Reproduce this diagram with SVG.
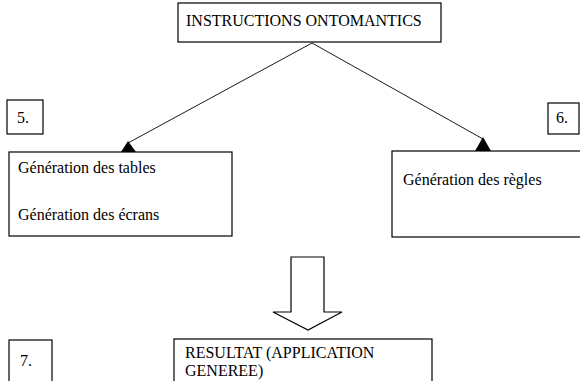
<svg xmlns="http://www.w3.org/2000/svg" width="580" height="381" viewBox="0 0 580 381">
<style>
.box{fill:#fff;stroke:#000;stroke-width:1.2}
.t{font-family:"Liberation Serif","Times New Roman",serif;font-size:16px;fill:#000}
.ln{stroke:#000;stroke-width:0.9;fill:none}
.head{fill:#000;stroke:none}
</style>
<rect width="580" height="381" fill="#fff"/>
<g id="connectors">
<line class="ln" x1="312" y1="43" x2="128" y2="143"/>
<polygon class="head" points="128,141 121,152 136,152"/>
<line class="ln" x1="312" y1="43" x2="483" y2="139"/>
<polygon class="head" points="483,137 475,151 491,151"/>
<polygon class="box" points="291,257 324,257 324,312 342,312 308,330 273,312 291,312"/>
</g>
<g id="instructions">
<rect class="box" x="178" y="3" width="263" height="39"/>
<text class="t" x="186" y="26">INSTRUCTIONS ONTOMANTICS</text>
</g>
<g id="label5">
<rect class="box" x="7" y="100" width="36" height="34"/>
<text class="t" x="17" y="123">5.</text>
</g>
<g id="tables">
<rect class="box" x="9" y="152" width="223" height="84"/>
<text class="t" x="18" y="173">Génération des tables</text>
<text class="t" x="18" y="220">Génération des écrans</text>
</g>
<g id="label6">
<rect class="box" x="548" y="103" width="31" height="31"/>
<text class="t" x="556" y="123">6.</text>
</g>
<g id="regles">
<rect class="box" x="392" y="151" width="200" height="86"/>
<text class="t" x="403" y="185">Génération des règles</text>
</g>
<g id="label7">
<rect class="box" x="9" y="340" width="43" height="45"/>
<text class="t" x="20" y="366">7.</text>
</g>
<g id="resultat">
<rect class="box" x="174" y="339" width="258" height="50"/>
<text class="t" x="185" y="358">RESULTAT (APPLICATION</text>
<text class="t" x="185" y="376">GENEREE)</text>
</g>
</svg>
